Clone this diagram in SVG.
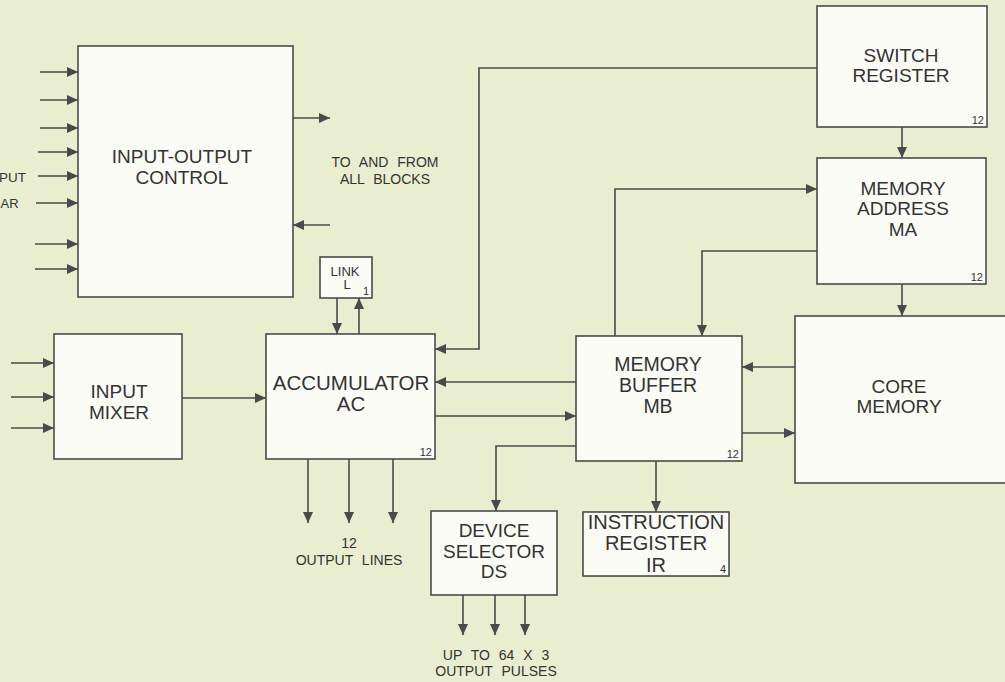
<svg xmlns="http://www.w3.org/2000/svg" width="1005" height="682" viewBox="0 0 1005 682">
<defs>
<marker id="ah" markerUnits="userSpaceOnUse" markerWidth="12" markerHeight="10" refX="11" refY="5" orient="auto">
<path d="M0,0 L11,5 L0,10 Z" fill="#4a4a4a"/>
</marker>
<style>
.box{fill:#fcfcf7;stroke:#4a4a4a;stroke-width:1.6}
.ln{fill:none;stroke:#4a4a4a;stroke-width:1.6}
.ar{fill:none;stroke:#4a4a4a;stroke-width:1.6;marker-end:url(#ah)}
.t{font-family:"Liberation Sans",Arial,sans-serif;font-size:19px;fill:#333;text-anchor:middle}
.s{font-family:"Liberation Sans",Arial,sans-serif;font-size:14px;fill:#333;text-anchor:middle;word-spacing:5px}
.n{font-family:"Liberation Sans",Arial,sans-serif;font-size:11px;fill:#333;text-anchor:end}
</style>
</defs>
<rect x="0" y="0" width="1005" height="682" fill="#eaeed0"/>

<g id="connectors">
<line class="ar" x1="40" y1="72" x2="78" y2="72"/>
<line class="ar" x1="40" y1="100" x2="78" y2="100"/>
<line class="ar" x1="40" y1="128" x2="78" y2="128"/>
<line class="ar" x1="38" y1="152" x2="78" y2="152"/>
<line class="ar" x1="38" y1="176" x2="78" y2="176"/>
<line class="ar" x1="36" y1="203" x2="78" y2="203"/>
<line class="ar" x1="35" y1="244" x2="78" y2="244"/>
<line class="ar" x1="35" y1="269" x2="78" y2="269"/>
<line class="ar" x1="293" y1="118" x2="330" y2="118"/>
<line class="ar" x1="330" y1="225" x2="293" y2="225"/>
<line class="ar" x1="11" y1="363" x2="54" y2="363"/>
<line class="ar" x1="11" y1="397" x2="54" y2="397"/>
<line class="ar" x1="11" y1="428" x2="54" y2="428"/>
<line class="ar" x1="182" y1="398" x2="266" y2="398"/>
<line class="ar" x1="337" y1="298" x2="337" y2="334"/>
<line class="ar" x1="359" y1="334" x2="359" y2="298"/>
<line class="ar" x1="308" y1="459" x2="308" y2="523"/>
<line class="ar" x1="349" y1="459" x2="349" y2="523"/>
<line class="ar" x1="393" y1="459" x2="393" y2="523"/>
<polyline class="ar" points="817,68 479,68 479,349 435,349"/>
<line class="ar" x1="576" y1="382" x2="435" y2="382"/>
<line class="ar" x1="435" y1="416" x2="576" y2="416"/>
<polyline class="ar" points="615,336 615,189 817,189"/>
<polyline class="ar" points="817,251 702,251 702,336"/>
<line class="ar" x1="902" y1="127" x2="902" y2="158"/>
<line class="ar" x1="902" y1="284" x2="902" y2="316"/>
<line class="ar" x1="795" y1="367" x2="742" y2="367"/>
<line class="ar" x1="742" y1="433" x2="795" y2="433"/>
<polyline class="ar" points="576,446 496,446 496,511"/>
<line class="ar" x1="656" y1="461" x2="656" y2="512"/>
<line class="ar" x1="463" y1="595" x2="463" y2="635"/>
<line class="ar" x1="495" y1="595" x2="495" y2="635"/>
<line class="ar" x1="525" y1="595" x2="525" y2="635"/>
</g>

<g id="labels">
<text class="s" x="26" y="182" style="text-anchor:end;font-size:13.5px">PUT</text>
<text class="s" x="0.5" y="208" style="text-anchor:start;font-size:13px">AR</text>
<text class="s" x="385" y="167">TO AND FROM</text>
<text class="s" x="385" y="184">ALL BLOCKS</text>
<text class="s" x="349" y="548">12</text>
<text class="s" x="349" y="565">OUTPUT LINES</text>
<text class="s" x="496" y="660">UP TO 64 X 3</text>
<text class="s" x="496" y="676">OUTPUT PULSES</text>
</g>

<g id="io-control">
<rect class="box" x="78" y="46" width="215" height="251"/>
<text class="t" x="182" y="163">INPUT-OUTPUT</text>
<text class="t" x="182" y="184">CONTROL</text>
</g>

<g id="link">
<rect class="box" x="320" y="257" width="52" height="41"/>
<text class="s" x="345" y="276" style="font-size:13px">LINK</text>
<text class="s" x="347" y="289" style="font-size:13px">L</text>
<text class="n" x="369" y="295">1</text>
</g>

<g id="input-mixer">
<rect class="box" x="54" y="334" width="128" height="125"/>
<text class="t" x="119" y="398">INPUT</text>
<text class="t" x="119" y="419">MIXER</text>
</g>

<g id="accumulator">
<rect class="box" x="266" y="334" width="169" height="125"/>
<text class="t" x="351" y="390" style="font-size:20.5px">ACCUMULATOR</text>
<text class="t" x="351" y="411" style="font-size:20.5px">AC</text>
<text class="n" x="432" y="456">12</text>
</g>

<g id="memory-buffer">
<rect class="box" x="576" y="336" width="166" height="125"/>
<text class="t" x="658" y="371" style="font-size:19.5px">MEMORY</text>
<text class="t" x="658" y="392" style="font-size:19.5px">BUFFER</text>
<text class="t" x="658" y="413" style="font-size:19.5px">MB</text>
<text class="n" x="739" y="458">12</text>
</g>

<g id="switch-register">
<rect class="box" x="817" y="6" width="170" height="121"/>
<text class="t" x="901" y="62">SWITCH</text>
<text class="t" x="901" y="82">REGISTER</text>
<text class="n" x="984" y="124">12</text>
</g>

<g id="memory-address">
<rect class="box" x="817" y="158" width="169" height="126"/>
<text class="t" x="903" y="195">MEMORY</text>
<text class="t" x="903" y="215">ADDRESS</text>
<text class="t" x="903" y="236">MA</text>
<text class="n" x="983" y="281">12</text>
</g>

<g id="core-memory">
<rect class="box" x="795" y="316" width="220" height="167"/>
<text class="t" x="899" y="393">CORE</text>
<text class="t" x="899" y="413">MEMORY</text>
</g>

<g id="device-selector">
<rect class="box" x="431" y="511" width="126" height="84"/>
<text class="t" x="494" y="537">DEVICE</text>
<text class="t" x="494" y="558">SELECTOR</text>
<text class="t" x="494" y="578">DS</text>
</g>

<g id="instruction-register">
<rect class="box" x="583" y="512" width="146" height="64"/>
<text class="t" x="656" y="529" style="font-size:20px">INSTRUCTION</text>
<text class="t" x="656" y="550" style="font-size:20px">REGISTER</text>
<text class="t" x="656" y="572" style="font-size:20px">IR</text>
<text class="n" x="726" y="573">4</text>
</g>
</svg>
